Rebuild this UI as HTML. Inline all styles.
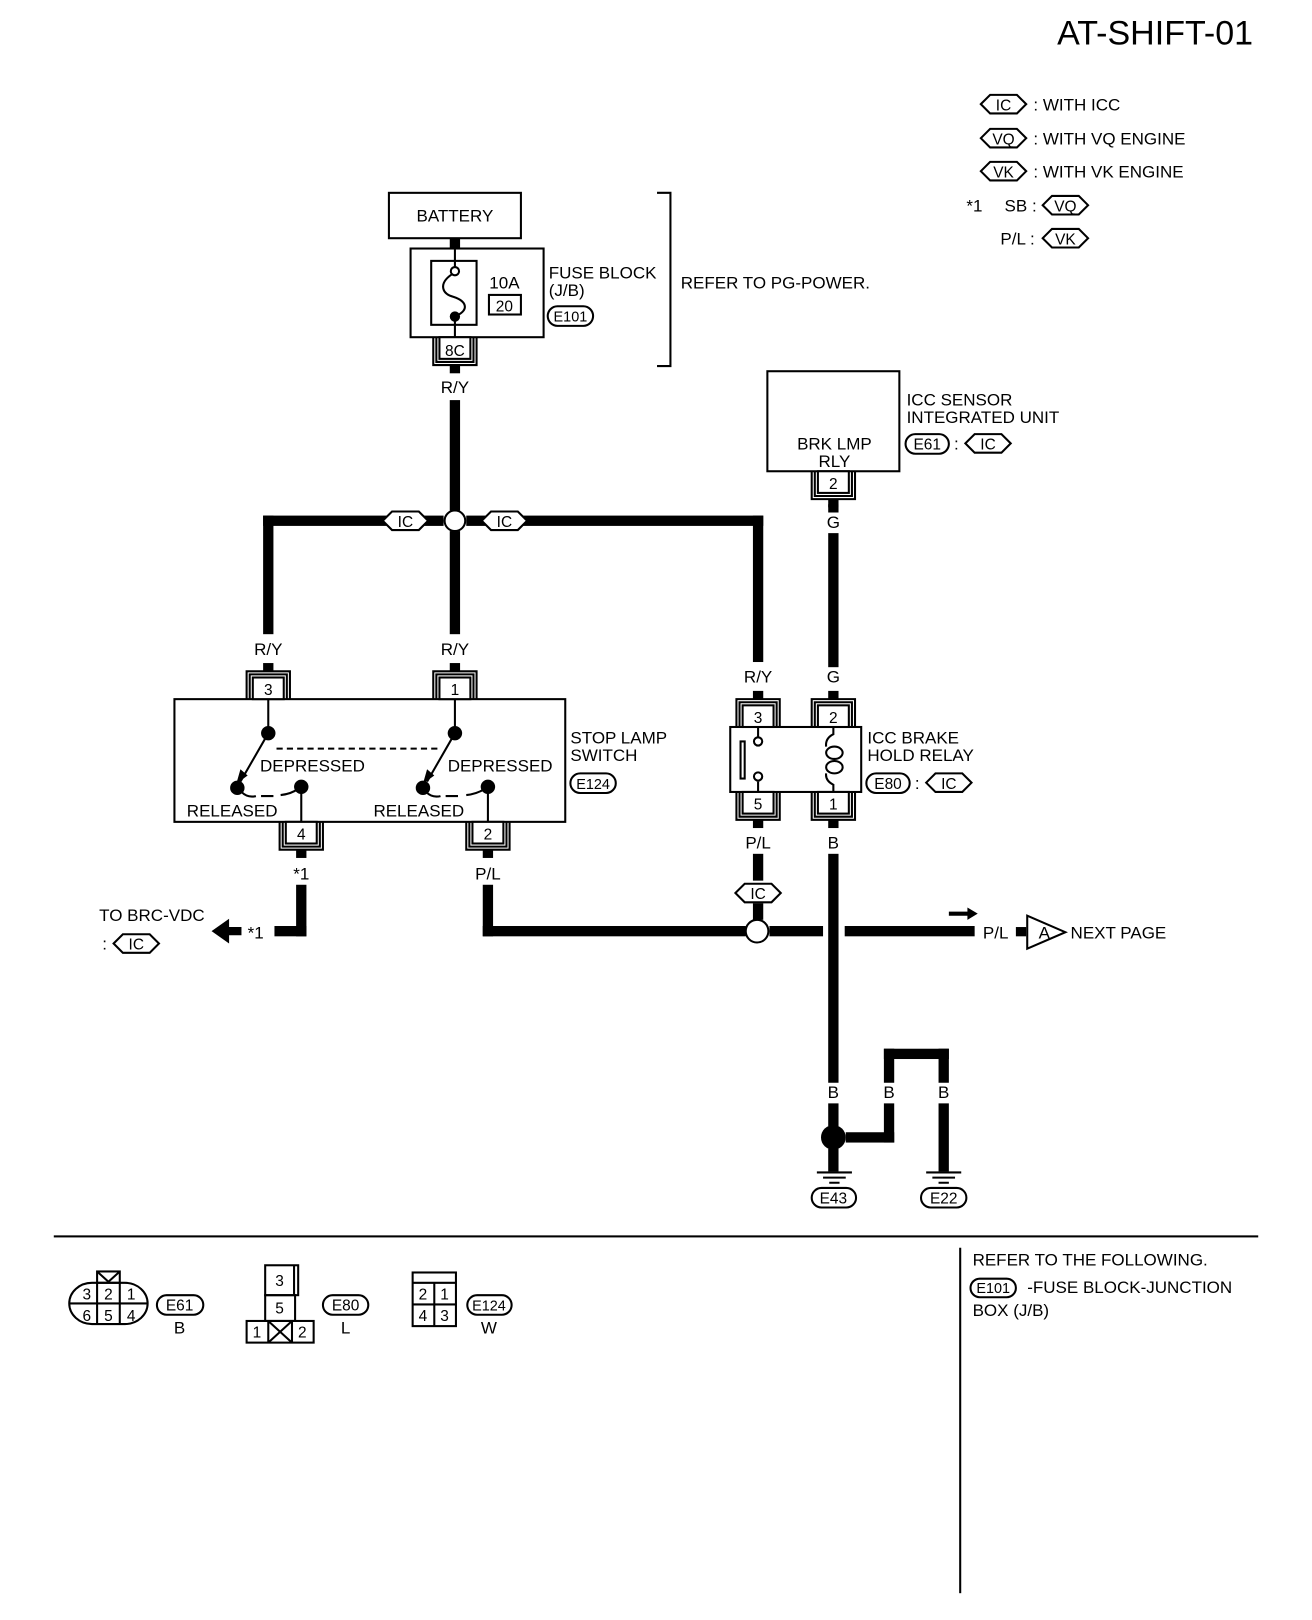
<!DOCTYPE html>
<html><head><meta charset="utf-8"><style>
html,body{margin:0;padding:0;background:#fff;}
svg{display:block;}
text{font-family:"Liberation Sans",sans-serif;fill:#000;}
.s{font-size:15px;}
</style></head><body>
<svg width="1312" height="1620" viewBox="0 0 1272 1571" xmlns="http://www.w3.org/2000/svg">
<defs>
<g id="ct">
<rect x="-15" y="-21" width="30" height="21" fill="#fff" stroke="#000" stroke-width="2"/>
<path d="M-21,0 V-27 H21 V0 M-18,0 V-24 H18 V0" fill="none" stroke="#000" stroke-width="2"/>
<rect x="-5" y="-35" width="10" height="8" fill="#000"/>
</g>
<g id="cb">
<rect x="-15" y="0" width="30" height="21" fill="#fff" stroke="#000" stroke-width="2"/>
<path d="M-21,0 V27 H21 V0 M-18,0 V24 H18 V0" fill="none" stroke="#000" stroke-width="2"/>
<rect x="-5" y="27" width="10" height="8" fill="#000"/>
</g>
<path id="hex" d="M-22,0 L-13,-9 H13 L22,0 L13,9 H-13 Z" fill="#fff" stroke="#000" stroke-width="2"/>
</defs>

<g font-size="16.5">
<text x="1215" y="43" font-size="33" text-anchor="end">AT-SHIFT-01</text>

<!-- legend -->
<use href="#hex" x="973" y="101"/><text class="s" x="973" y="107" text-anchor="middle">IC</text><text x="1002" y="107">: WITH ICC</text>
<use href="#hex" x="973" y="134"/><text class="s" x="973" y="140" text-anchor="middle">VQ</text><text x="1002" y="140">: WITH VQ ENGINE</text>
<use href="#hex" x="973" y="166"/><text class="s" x="973" y="172" text-anchor="middle">VK</text><text x="1002" y="172">: WITH VK ENGINE</text>
<text x="937" y="205">*1</text><text x="974" y="205">SB :</text>
<use href="#hex" x="1033" y="199"/><text class="s" x="1033" y="205" text-anchor="middle">VQ</text>
<text x="970" y="237">P/L :</text>
<use href="#hex" x="1033" y="231"/><text class="s" x="1033" y="237" text-anchor="middle">VK</text>

<!-- battery & fuse -->
<rect x="377" y="187" width="128" height="44" fill="#fff" stroke="#000" stroke-width="2"/>
<text x="441" y="215" text-anchor="middle">BATTERY</text>
<rect x="436" y="231" width="10" height="10"/>
<rect x="398" y="241" width="129" height="86" fill="#fff" stroke="#000" stroke-width="2"/>
<rect x="418" y="253" width="44" height="62" fill="#fff" stroke="#000" stroke-width="2"/>
<path d="M441,241 V259 M441,308 V327" stroke="#000" stroke-width="2"/>
<circle cx="441" cy="263" r="4" fill="#fff" stroke="#000" stroke-width="2"/>
<path d="M438,266 C425,275 428,285 440,288 C452,292 455,300 443,306" fill="none" stroke="#000" stroke-width="2"/>
<circle cx="441" cy="307" r="5"/>
<text x="489" y="280" text-anchor="middle">10A</text>
<rect x="474" y="286" width="31" height="19" fill="#fff" stroke="#000" stroke-width="2"/>
<text class="s" x="489" y="302" text-anchor="middle">20</text>
<text x="532" y="270">FUSE BLOCK</text><text x="532" y="287">(J/B)</text>
<rect x="531" y="297" width="44" height="19" rx="9.5" fill="#fff" stroke="#000" stroke-width="2"/>
<text x="553" y="312" text-anchor="middle" font-size="14">E101</text>
<use href="#cb" x="441" y="327"/><text class="s" x="441" y="345" text-anchor="middle">8C</text>
<text x="441" y="381" text-anchor="middle">R/Y</text>
<path d="M637,187 H650 V355 H637" fill="none" stroke="#000" stroke-width="2"/>
<text x="660" y="280">REFER TO PG-POWER.</text>

<!-- wires upper -->
<g fill="#000">
<rect x="436" y="388" width="10" height="107"/>
<rect x="436" y="515" width="10" height="100"/>
<rect x="255" y="500" width="175" height="10"/>
<rect x="452" y="500" width="288" height="10"/>
<rect x="255" y="500" width="10" height="115"/>
<rect x="730" y="500" width="10" height="142"/>
<rect x="803" y="489" width="10" height="8"/>
<rect x="803" y="517" width="10" height="130"/>
</g>
<circle cx="441" cy="505" r="10" fill="#fff" stroke="#000" stroke-width="2"/>
<use href="#hex" x="393" y="505"/><text class="s" x="393" y="511" text-anchor="middle">IC</text>
<use href="#hex" x="489" y="505"/><text class="s" x="489" y="511" text-anchor="middle">IC</text>
<text x="260" y="635" text-anchor="middle">R/Y</text>
<text x="441" y="635" text-anchor="middle">R/Y</text>
<text x="735" y="662" text-anchor="middle">R/Y</text>
<text x="808" y="662" text-anchor="middle">G</text>
<text x="808" y="512" text-anchor="middle">G</text>

<!-- ICC sensor -->
<rect x="744" y="360" width="128" height="97" fill="#fff" stroke="#000" stroke-width="2"/>
<text x="809" y="436" text-anchor="middle">BRK LMP</text>
<text x="809" y="453" text-anchor="middle">RLY</text>
<use href="#cb" x="808" y="457"/><text class="s" x="808" y="474" text-anchor="middle">2</text>
<text x="879" y="393">ICC SENSOR</text><text x="879" y="410">INTEGRATED UNIT</text>
<rect x="878" y="421" width="42" height="19" rx="9.5" fill="#fff" stroke="#000" stroke-width="2"/>
<text class="s" x="899" y="436" text-anchor="middle">E61</text><text x="925" y="436">:</text>
<use href="#hex" x="958" y="430"/><text class="s" x="958" y="436" text-anchor="middle">IC</text>

<!-- stop lamp switch -->
<rect x="169" y="678" width="379" height="119" fill="#fff" stroke="#000" stroke-width="2"/>
<use href="#ct" x="260" y="678"/><text class="s" x="260" y="674" text-anchor="middle">3</text>
<use href="#ct" x="441" y="678"/><text class="s" x="441" y="674" text-anchor="middle">1</text>
<use href="#cb" x="292" y="797"/><text class="s" x="292" y="814" text-anchor="middle">4</text>
<use href="#cb" x="473" y="797"/><text class="s" x="473" y="814" text-anchor="middle">2</text>
<g stroke="#000" stroke-width="2" fill="none">
<path d="M260,678 V711 M441,678 V711 M292,763 V797 M473,763 V797"/>
<path d="M268,726 H428" stroke-dasharray="6,4"/>
<path d="M260,711 L233,758 M441,711 L414,758"/>
<path d="M234,768 Q240,774 248,772 M253,772 H265 M272,771 Q282,770 289,765"/>
<path d="M413,768 Q419,774 427,772 M432,772 H444 M452,771 Q462,770 470,765"/>
</g>
<path d="M229,760 L233,746 L240,752 Z M410,760 L414,746 L421,752 Z"/>
<circle cx="260" cy="711" r="7"/><circle cx="441" cy="711" r="7"/>
<circle cx="230" cy="764" r="7"/><circle cx="292" cy="763" r="7"/>
<circle cx="410" cy="764" r="7"/><circle cx="473" cy="763" r="7"/>
<text x="252" y="748">DEPRESSED</text><text x="434" y="748">DEPRESSED</text>
<text x="181" y="792">RELEASED</text><text x="362" y="792">RELEASED</text>
<text x="553" y="721">STOP LAMP</text><text x="553" y="738">SWITCH</text>
<rect x="553" y="750" width="44" height="19" rx="9.5" fill="#fff" stroke="#000" stroke-width="2"/>
<text x="575" y="765" text-anchor="middle" font-size="14">E124</text>

<!-- relay -->
<rect x="708" y="705" width="127" height="63" fill="#fff" stroke="#000" stroke-width="2"/>
<use href="#ct" x="735" y="705"/><text class="s" x="735" y="701" text-anchor="middle">3</text>
<use href="#ct" x="808" y="705"/><text class="s" x="808" y="701" text-anchor="middle">2</text>
<use href="#cb" x="735" y="768"/><text class="s" x="735" y="785" text-anchor="middle">5</text>
<use href="#cb" x="808" y="768"/><text class="s" x="808" y="785" text-anchor="middle">1</text>
<g stroke="#000" stroke-width="2" fill="none">
<path d="M735,705 V715 M735,758 V768"/>
<circle cx="735" cy="719" r="4"/><circle cx="735" cy="753" r="4"/>
<rect x="718" y="719" width="4" height="36"/>
<path d="M808,705 V712 Q800,716 801,724 M808,768 V761 Q800,757 801,750"/>
<ellipse cx="809" cy="730" rx="8" ry="6"/><ellipse cx="809" cy="744" rx="8" ry="6"/>
</g>
<text x="841" y="721">ICC BRAKE</text><text x="841" y="738">HOLD RELAY</text>
<rect x="840" y="750" width="42" height="19" rx="9.5" fill="#fff" stroke="#000" stroke-width="2"/>
<text class="s" x="861" y="765" text-anchor="middle">E80</text><text x="887" y="765">:</text>
<use href="#hex" x="920" y="759"/><text class="s" x="920" y="765" text-anchor="middle">IC</text>

<!-- lower wires -->
<text x="735" y="823" text-anchor="middle">P/L</text>
<text x="808" y="823" text-anchor="middle">B</text>
<text x="292" y="853" text-anchor="middle">*1</text>
<text x="473" y="853" text-anchor="middle">P/L</text>
<g fill="#000">
<rect x="287" y="858" width="10" height="50"/>
<rect x="266" y="898" width="31" height="10"/>
<path d="M205,903 L222,891 V899 H234 V907 H222 V915 Z"/>
<rect x="468" y="858" width="10" height="50"/>
<rect x="468" y="898" width="255" height="10"/>
<rect x="746" y="898" width="52" height="10"/>
<rect x="819" y="898" width="126" height="10"/>
<rect x="730" y="828" width="10" height="26"/>
<rect x="730" y="876" width="10" height="16"/>
<rect x="803" y="828" width="10" height="222"/>
<rect x="803" y="1070" width="10" height="22"/>
<rect x="803" y="1114" width="10" height="22"/>
<rect x="820" y="1098" width="47" height="10"/>
<rect x="857" y="1017" width="10" height="33"/>
<rect x="857" y="1070" width="10" height="38"/>
<rect x="857" y="1017" width="63" height="10"/>
<rect x="910" y="1017" width="10" height="33"/>
<rect x="910" y="1070" width="10" height="66"/>
<rect x="985" y="899" width="10" height="9"/>
<path d="M920,884 H938 V880 L948,886 L938,892 V888 H920 Z"/>
</g>
<text x="240" y="910">*1</text>
<text x="96" y="893">TO BRC-VDC</text><text x="99" y="921">:</text>
<use href="#hex" x="132" y="915"/><text class="s" x="132" y="921" text-anchor="middle">IC</text>
<circle cx="734" cy="903" r="11" fill="#fff" stroke="#000" stroke-width="2"/>
<use href="#hex" x="735" y="866"/><text class="s" x="735" y="872" text-anchor="middle">IC</text>
<text x="953" y="910">P/L</text>
<path d="M996,888 L1033,904 L996,920 Z" fill="#fff" stroke="#000" stroke-width="2"/>
<text x="1007" y="910">A</text>
<text x="1038" y="910">NEXT PAGE</text>

<!-- grounds -->
<text x="808" y="1065" text-anchor="middle">B</text>
<text x="862" y="1065" text-anchor="middle">B</text>
<text x="915" y="1065" text-anchor="middle">B</text>
<circle cx="808" cy="1103" r="12"/>
<g stroke="#000" stroke-width="2">
<path d="M792,1137 H826 M798,1142 H820 M804,1147 H814"/>
<path d="M898,1137 H932 M904,1142 H926 M910,1147 H920"/>
</g>
<rect x="787" y="1152" width="43" height="19" rx="9.5" fill="#fff" stroke="#000" stroke-width="2"/>
<text class="s" x="808" y="1167" text-anchor="middle">E43</text>
<rect x="893" y="1152" width="44" height="19" rx="9.5" fill="#fff" stroke="#000" stroke-width="2"/>
<text class="s" x="915" y="1167" text-anchor="middle">E22</text>

<!-- bottom section -->
<rect x="52" y="1198" width="1168" height="2"/>
<rect x="930" y="1210" width="2" height="335"/>
<text x="943" y="1227">REFER TO THE FOLLOWING.</text>
<rect x="941" y="1240" width="44" height="18" rx="9" fill="#fff" stroke="#000" stroke-width="2"/>
<text x="963" y="1254" text-anchor="middle" font-size="14">E101</text>
<text x="996" y="1254">-FUSE BLOCK-JUNCTION</text>
<text x="943" y="1276">BOX (J/B)</text>

<g stroke="#000" stroke-width="2" fill="none">
<rect x="67" y="1244" width="76" height="40" rx="22" ry="20"/>
<path d="M94,1244 V1284 M116,1244 V1284 M67,1264 H143"/>
<rect x="94" y="1233" width="22" height="11"/>
<path d="M94,1233 L105,1243 L116,1233"/>
<rect x="257" y="1227" width="32" height="29"/>
<path d="M285,1227 V1256"/>
<rect x="257" y="1256" width="29" height="25"/>
<rect x="239" y="1281" width="65" height="21"/>
<path d="M260,1281 V1302 M283,1281 V1302 M260,1281 L283,1302 M283,1281 L260,1302"/>
<rect x="400" y="1234" width="42" height="52"/>
<path d="M400,1244 H442 M400,1265 H442 M421,1244 V1286"/>
</g>
<g class="s">
<text x="84" y="1260" text-anchor="middle">3</text><text x="105" y="1260" text-anchor="middle">2</text><text x="127" y="1260" text-anchor="middle">1</text>
<text x="84" y="1281" text-anchor="middle">6</text><text x="105" y="1281" text-anchor="middle">5</text><text x="127" y="1281" text-anchor="middle">4</text>
<text x="271" y="1247" text-anchor="middle">3</text>
<text x="271" y="1274" text-anchor="middle">5</text>
<text x="249" y="1297" text-anchor="middle">1</text><text x="293" y="1297" text-anchor="middle">2</text>
<text x="410" y="1260" text-anchor="middle">2</text><text x="431" y="1260" text-anchor="middle">1</text>
<text x="410" y="1281" text-anchor="middle">4</text><text x="431" y="1281" text-anchor="middle">3</text>
</g>
<rect x="152" y="1256" width="45" height="19" rx="9.5" fill="#fff" stroke="#000" stroke-width="2"/>
<text class="s" x="174" y="1271" text-anchor="middle">E61</text><text x="174" y="1293" text-anchor="middle">B</text>
<rect x="313" y="1256" width="44" height="19" rx="9.5" fill="#fff" stroke="#000" stroke-width="2"/>
<text class="s" x="335" y="1271" text-anchor="middle">E80</text><text x="335" y="1293" text-anchor="middle">L</text>
<rect x="453" y="1256" width="43" height="19" rx="9.5" fill="#fff" stroke="#000" stroke-width="2"/>
<text x="474" y="1271" text-anchor="middle" font-size="14">E124</text><text x="474" y="1293" text-anchor="middle">W</text>
</g>
</svg>
</body></html>
